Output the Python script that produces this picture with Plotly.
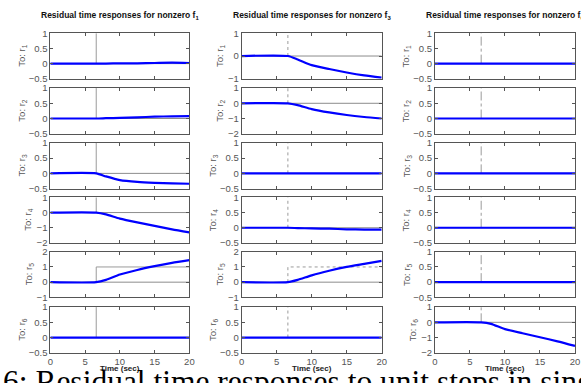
import plotly.graph_objects as go

W, H = 581, 383

# time samples (sec)
t = [0, 6.6, 8, 10, 12.5, 15, 17.5, 20]
t_step = 6.6
t_end = 20

# blue residual responses  [column][row]
resp = {
    0: {
        0: [0, 0, 0.0, 0.01, 0.01, 0.02, 0.03, 0.02],
        1: [0, 0, 0.01, 0.02, 0.04, 0.06, 0.07, 0.08],
        2: [0, 0, -0.10, -0.22, -0.28, -0.31, -0.33, -0.34],
        3: [0, 0, -0.12, -0.40, -0.65, -0.87, -1.10, -1.30],
        4: [0, 0, 0.15, 0.50, 0.80, 1.05, 1.27, 1.45],
        5: [0, 0, 0, 0, 0, 0, 0, 0],
    },
    1: {
        0: [0, 0, -0.15, -0.40, -0.57, -0.72, -0.85, -0.95],
        1: [0, 0, -0.12, -0.38, -0.60, -0.77, -0.90, -1.00],
        2: [0, 0, 0, 0, 0, 0, 0, 0],
        3: [0, 0, -0.01, -0.02, -0.03, -0.05, -0.06, -0.06],
        4: [0, 0, 0.15, 0.45, 0.75, 1.00, 1.20, 1.40],
        5: [0, 0, 0, 0, 0, 0, 0, 0],
    },
    2: {
        0: [0, 0, 0, 0, 0, 0, 0, 0],
        1: [0, 0, 0, 0, 0, 0, 0, 0],
        2: [0, 0, 0, 0, 0, 0, 0, 0],
        3: [0, 0, 0, 0, 0, 0, 0, 0],
        4: [0, 0, 0, 0, 0, 0, 0, 0],
        5: [0, 0, -0.10, -0.45, -0.72, -0.98, -1.25, -1.55],
    },
}

# y ranges [column][row]
yranges = {
    0: [(-0.5, 1), (-0.5, 1), (-0.5, 1), (-2, 1), (-1, 2), (-0.5, 1)],
    1: [(-1, 1), (-2, 1), (-0.5, 1), (-0.5, 1), (-1, 2), (-0.5, 1)],
    2: [(-0.5, 1), (-0.5, 1), (-0.5, 1), (-0.5, 1), (-0.5, 1), (-2, 1)],
}

col_titles = ["Residual time responses for nonzero f<sub>1</sub>",
              "Residual time responses for nonzero f<sub>3</sub>",
              "Residual time responses for nonzero f<sub>6</sub>"]
row_labels = ["To: r<sub>%d</sub>" % (i + 1) for i in range(6)]
step_dash = ["solid", "dot", "dashdot"]
x_ticks = [0, 5, 10, 15, 20]
caption = "6: Residual time responses to unit steps in single faults"

# layout geometry in pixels
col_left = [48, 242, 438]
col_right = [189, 384, 580]
row_top = [28, 84.5, 141, 197, 253, 310]
row_h = 47

GRAY_AX = "#555555"
TICKC = "#555555"
FONT = "Liberation Sans, Arial, sans-serif"

fig = go.Figure()
annotations = []
n = 0
for c in range(3):
    for r in range(6):
        n += 1
        xa = "x" if n == 1 else "x%d" % n
        ya = "y" if n == 1 else "y%d" % n
        lo, hi = yranges[c][r]
        # gray nominal response
        fig.add_trace(go.Scatter(x=[0, t_end], y=[0, 0], mode="lines",
                                 line=dict(color="#8c8c8c", width=1),
                                 xaxis=xa, yaxis=ya, showlegend=False, hoverinfo="skip"))
        # gray step reference (its top level coincides with the frame when the range ends at 1)
        if hi > 1:
            sx, sy = [t_step, t_step, t_end], [0, 1, 1]
        else:
            sx, sy = [t_step, t_step], [0, 1]
        fig.add_trace(go.Scatter(x=sx, y=sy, mode="lines",
                                 line=dict(color="#9a9a9a", width=1, dash=step_dash[c]),
                                 xaxis=xa, yaxis=ya, showlegend=False, hoverinfo="skip"))
        # blue residual
        fig.add_trace(go.Scatter(x=t, y=resp[c][r], mode="lines",
                                 line=dict(color="#0000ff", width=2.2, shape="spline", smoothing=0.6),
                                 xaxis=xa, yaxis=ya, showlegend=False, hoverinfo="skip"))
        x0 = col_left[c] / W
        x1 = col_right[c] / W
        y1 = 1 - row_top[r] / H
        y0 = 1 - (row_top[r] + row_h) / H
        if lo == -0.5:
            yt = [-0.5, 0, 0.5, 1]
        else:
            yt = list(range(int(lo), int(hi) + 1))
        axcommon = dict(showgrid=False, zeroline=False, showline=True, linecolor=GRAY_AX,
                        linewidth=1, mirror="ticks", ticks="inside", ticklen=3,
                        tickcolor=GRAY_AX, tickfont=dict(size=9.5, color=TICKC, family=FONT))
        fig.layout["xaxis" if n == 1 else "xaxis%d" % n] = dict(
            domain=[x0, x1], range=[0, 20], anchor=ya, tickvals=x_ticks,
            showticklabels=(r == 5), **axcommon)
        fig.layout["yaxis" if n == 1 else "yaxis%d" % n] = dict(
            domain=[y0, y1], range=[lo, hi], anchor=xa, tickvals=yt,
            ticktext=[("%g" % v).replace("-", "\u2212") for v in yt], **axcommon)
        off = 29 if lo == -0.5 else 22
        annotations.append(dict(x=(col_left[c] - off) / W, y=1 - (row_top[r] + row_h / 2) / H,
                                xref="paper", yref="paper", text=row_labels[r], textangle=-90,
                                showarrow=False, xanchor="center", yanchor="middle",
                                font=dict(size=9.5, color=TICKC, family=FONT)))
    xc = (col_left[c] + col_right[c]) / 2 / W
    annotations.append(dict(x=xc, y=1 - 10 / H, xref="paper", yref="paper",
                            text="<b>" + col_titles[c] + "</b>", showarrow=False,
                            xanchor="center", yanchor="middle",
                            font=dict(size=8.5, color="#111111", family=FONT)))
    annotations.append(dict(x=xc, y=1 - 373 / H, xref="paper", yref="paper",
                            text="<b>Time (sec)</b>", showarrow=False,
                            xanchor="center", yanchor="middle",
                            font=dict(size=8, color="#222222", family=FONT)))

annotations.append(dict(x=-2 / W, y=1 - 386.5 / H, xref="paper", yref="paper",
                        text=caption, showarrow=False, xanchor="left", yanchor="middle",
                        font=dict(size=31.5, color="#000000", family="Liberation Serif, serif")))

fig.update_layout(width=W, height=H, margin=dict(l=0, r=0, t=0, b=0),
                  paper_bgcolor="white", plot_bgcolor="white",
                  annotations=annotations)
fig.write_html("out.html")
